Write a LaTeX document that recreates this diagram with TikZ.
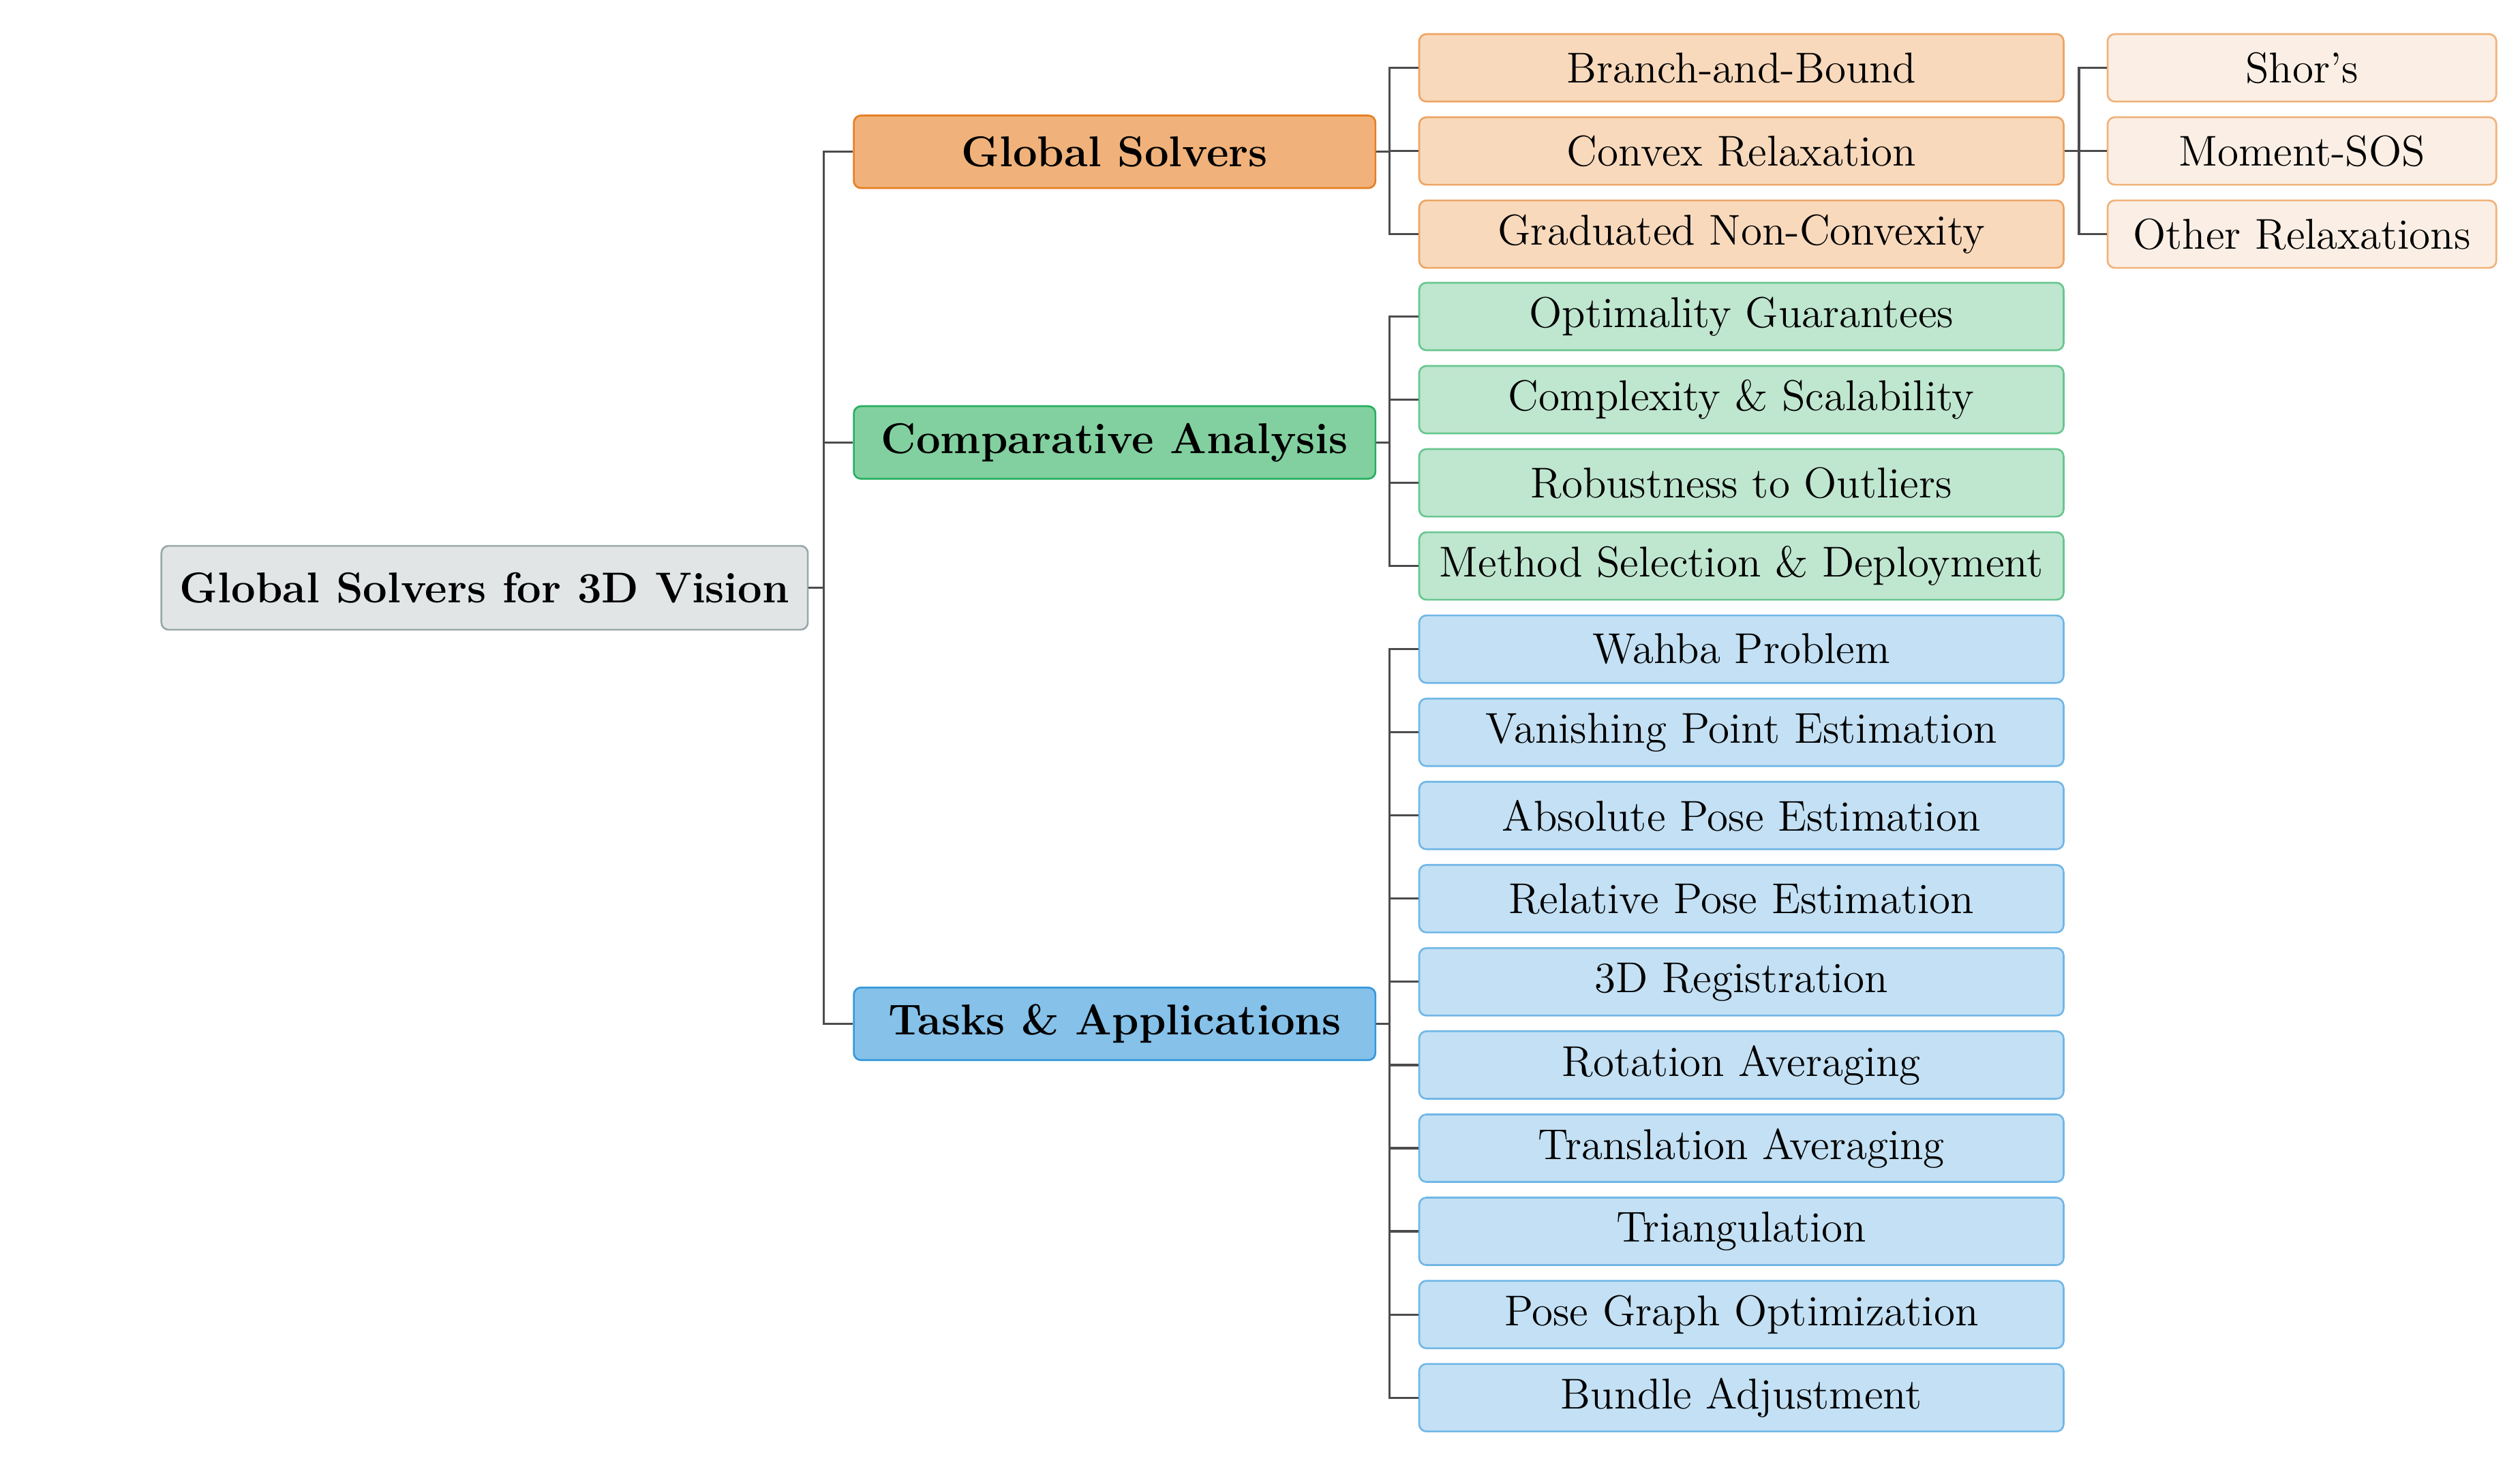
\documentclass[tikz,border=0pt]{standalone}
\usepackage{tikz}
\usetikzlibrary{positioning,calc}
\definecolor{rootfill}{HTML}{E1E5E5}
\definecolor{rootdraw}{HTML}{9AA7A8}
\definecolor{orgfill}{HTML}{F0B27A}
\definecolor{orgdraw}{HTML}{E67E22}
\definecolor{orgleaf}{HTML}{F8D9BC}
\definecolor{orgsub}{HTML}{FBEFE5}
\definecolor{grnfill}{HTML}{82D0A0}
\definecolor{grndraw}{HTML}{27AE60}
\definecolor{grnleaf}{HTML}{BFE6CF}
\definecolor{blufill}{HTML}{85C1E9}
\definecolor{bludraw}{HTML}{3498DB}
\definecolor{bluleaf}{HTML}{C3E0F4}
\tikzset{
  box/.style={rectangle,rounded corners=2pt,line width=0.5pt,inner sep=0pt,align=center},
  root/.style={box,fill=rootfill,draw=rootdraw,minimum width=6.32cm,minimum height=0.82cm,font=\large\bfseries},
  cat/.style={box,minimum width=5.1cm,minimum height=0.71cm,font=\large\bfseries},
  leaf/.style={box,minimum width=6.3cm,minimum height=0.66cm,font=\large},
  sub/.style={box,fill=orgsub,draw=orgdraw!60,minimum width=3.8cm,minimum height=0.66cm,font=\large},
  link/.style={draw=black!70,line width=0.6pt}
}
\begin{document}
\begin{tikzpicture}[x=0.0158cm,y=-0.0158cm]
\useasboundingbox (0,0) rectangle (1560,905.6);
\node[root] (R) at (300,364) {Global Solvers for 3D Vision};
\node[cat,fill=orgfill,draw=orgdraw] (GS) at (690,94) {Global Solvers};
\node[cat,fill=grnfill,draw=grndraw] (CA) at (690,274) {Comparative Analysis};
\node[cat,fill=blufill,draw=bludraw] (TA) at (690,634) {Tasks \& Applications};
\coordinate (Rb) at (510,364);
\foreach \c in {GS,CA,TA}
  \draw[link] (R.east) -- (Rb) |- (\c.west);
% leaves
\foreach \t [count=\i] in {Branch-and-Bound,Convex Relaxation,Graduated Non-Convexity}
  \node[leaf,fill=orgleaf,draw=orgdraw!70] (G\i) at (1078,{42+51.5*(\i-1)}) {\t};
\foreach \t [count=\i] in {Optimality Guarantees,Complexity \& Scalability,Robustness to Outliers,Method Selection \& Deployment}
  \node[leaf,fill=grnleaf,draw=grndraw!70] (C\i) at (1078,{196+51.5*(\i-1)}) {\t};
\foreach \t [count=\i] in {Wahba Problem,Vanishing Point Estimation,Absolute Pose Estimation,Relative Pose Estimation,3D Registration,Rotation Averaging,Translation Averaging,Triangulation,Pose Graph Optimization,Bundle Adjustment}
  \node[leaf,fill=bluleaf,draw=bludraw!70] (T\i) at (1078,{402+51.5*(\i-1)}) {\t};
\foreach \t [count=\i] in {Shor's,Moment-SOS,Other Relaxations}
  \node[sub] (S\i) at (1425,{42+51.5*(\i-1)}) {\t};
\coordinate (GSb) at (860,94);
\coordinate (CAb) at (860,274);
\coordinate (TAb) at (860,634);
\coordinate (G2b) at (1287,93.5);
\foreach \i in {1,2,3} \draw[link] (GS.east) -- (GSb) |- (G\i.west);
\foreach \i in {1,...,4} \draw[link] (CA.east) -- (CAb) |- (C\i.west);
\foreach \i in {1,...,10} \draw[link] (TA.east) -- (TAb) |- (T\i.west);
\foreach \i in {1,2,3} \draw[link] (G2.east) -- (G2b) |- (S\i.west);
\end{tikzpicture}
\end{document}
